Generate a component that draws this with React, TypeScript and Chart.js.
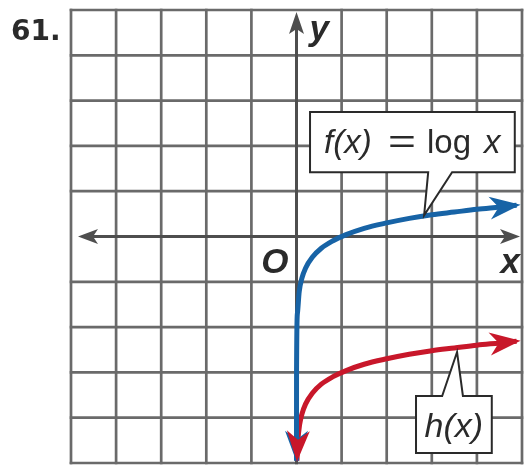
import { useEffect, useRef } from "react";
import { Chart, registerables } from "chart.js";

Chart.register(...registerables);

// Axis window
const xRange = [-5, 5];
const yRange = [-5, 5];

// f(x) = log x
const fXs = [0.00001, 0.001, 0.02, 0.06, 0.12, 0.2, 0.35, 0.55, 0.8, 1.1, 1.5, 2, 2.5, 3, 3.5, 4, 4.5, 4.88];
const fYs = [-4.95, -3, -1.7, -1.22, -0.92, -0.7, -0.46, -0.26, -0.1, 0.04, 0.18, 0.3, 0.4, 0.48, 0.54, 0.6, 0.65, 0.69];

// h(x)
const hXs = [0.011, 0.03, 0.07, 0.12, 0.2, 0.35, 0.55, 0.8, 1.1, 1.5, 2, 2.5, 3, 3.5, 4, 4.5, 4.88];
const hYs = [-4.95, -4.52, -4.15, -3.92, -3.7, -3.46, -3.26, -3.1, -2.96, -2.82, -2.7, -2.6, -2.52, -2.46, -2.4, -2.35, -2.31];

const problemLabel = "61.";
const xAxisLabel = "x";
const yAxisLabel = "y";
const originLabel = "O";
const fName = "f(x)";
const fRule = "log";
const hName = "h(x)";

const BLUE = "#1763a6";
const RED = "#c8172a";
const GRID = "#6a6a6a";
const AXIS = "#4e4e4e";
const INK = "#2a2a2a";

const toPoints = (xs: number[], ys: number[]) => xs.map((x, i) => ({ x, y: ys[i] }));

function arrowHead(ctx: CanvasRenderingContext2D, tx: number, ty: number, ang: number, len: number, half: number, notch: number, color: string) {
  const c = Math.cos(ang), s = Math.sin(ang);
  const bx = tx - c * len, by = ty - s * len;
  const nx = tx - c * (len - notch), ny = ty - s * (len - notch);
  ctx.save();
  ctx.fillStyle = color;
  ctx.beginPath();
  ctx.moveTo(tx, ty);
  ctx.lineTo(bx - s * half, by + c * half);
  ctx.lineTo(nx, ny);
  ctx.lineTo(bx + s * half, by - c * half);
  ctx.closePath();
  ctx.fill();
  ctx.restore();
}

const graphPaper = {
  id: "graphPaper",
  beforeDatasetsDraw(chart: any) {
    const { ctx, chartArea } = chart;
    const xs = chart.scales.x, ys = chart.scales.y;
    const { left, right, top, bottom } = chartArea;
    ctx.save();
    ctx.strokeStyle = GRID;
    ctx.lineWidth = 2.7;
    for (let v = xRange[0]; v <= xRange[1]; v++) {
      if (v === 0) continue;
      const px = xs.getPixelForValue(v);
      ctx.beginPath();
      ctx.moveTo(px, top - 1.3);
      ctx.lineTo(px, bottom + 1.3);
      ctx.stroke();
    }
    for (let v = yRange[0]; v <= yRange[1]; v++) {
      if (v === 0) continue;
      const py = ys.getPixelForValue(v);
      ctx.beginPath();
      ctx.moveTo(left - 1.3, py);
      ctx.lineTo(right + 1.3, py);
      ctx.stroke();
    }
    // axes
    const x0 = xs.getPixelForValue(0);
    const y0 = ys.getPixelForValue(0);
    ctx.strokeStyle = AXIS;
    ctx.lineWidth = 3;
    ctx.beginPath();
    ctx.moveTo(left + 14, y0);
    ctx.lineTo(right - 8, y0);
    ctx.stroke();
    ctx.beginPath();
    ctx.moveTo(x0, top + 14);
    ctx.lineTo(x0, bottom + 1.3);
    ctx.stroke();
    arrowHead(ctx, left + 7, y0, Math.PI, 20, 7.5, 5, AXIS);
    arrowHead(ctx, right - 2, y0, 0, 20, 7.5, 5, AXIS);
    arrowHead(ctx, x0, top + 2, -Math.PI / 2, 22, 7.5, 5, AXIS);

    // labels
    ctx.fillStyle = INK;
    ctx.textBaseline = "alphabetic";
    ctx.font = "bold 28px 'DejaVu Sans'";
    ctx.textAlign = "left";
    ctx.fillText(problemLabel, 11, 40);
    ctx.font = "italic bold 35px 'Liberation Sans'";
    ctx.fillText(yAxisLabel, x0 + 13, top + 30);
    ctx.textAlign = "right";
    ctx.fillText(originLabel, x0 - 8, y0 + 36);
    ctx.fillText(xAxisLabel, right - 2, y0 + 36);
    ctx.restore();
  },
  afterDatasetsDraw(chart: any) {
    const { ctx } = chart;
    const xs = chart.scales.x, ys = chart.scales.y;
    const colors = [BLUE, RED];
    chart.data.datasets.forEach((_d: any, i: number) => {
      const pts = chart.getDatasetMeta(i).data;
      const n = pts.length;
      const a = Math.atan2(pts[n - 1].y - pts[n - 2].y, pts[n - 1].x - pts[n - 2].x);
      arrowHead(ctx, pts[n - 1].x + Math.cos(a) * 4, pts[n - 1].y + Math.sin(a) * 4, a, 31, 11.5, 9, colors[i]);
      const b = Math.atan2(pts[0].y - pts[1].y, pts[0].x - pts[1].x);
      arrowHead(ctx, pts[0].x + Math.cos(b) * 1, pts[0].y + Math.sin(b) * 1, b, 31, 11.5, 9, colors[i]);
    });

    const P = (x: number, y: number) => [xs.getPixelForValue(x), ys.getPixelForValue(y)];

    // callout for f
    ctx.save();
    ctx.lineWidth = 2;
    ctx.strokeStyle = INK;
    ctx.fillStyle = "#ffffff";
    ctx.lineJoin = "miter";
    const [fl, ft] = P(0.3, 2.75);
    const [fr, fb] = P(4.84, 1.42);
    const [fa1] = P(2.92, 0);
    const [fa2] = P(3.45, 0);
    const [fax, fay] = P(2.83, 0.47);
    ctx.beginPath();
    ctx.moveTo(fl, ft);
    ctx.lineTo(fr, ft);
    ctx.lineTo(fr, fb);
    ctx.lineTo(fa2, fb);
    ctx.lineTo(fax, fay);
    ctx.lineTo(fa1, fb);
    ctx.lineTo(fl, fb);
    ctx.closePath();
    ctx.fill();
    ctx.stroke();
    ctx.fillStyle = INK;
    ctx.textAlign = "left";
    const base = ft + 0.69 * (fb - ft);
    ctx.font = "italic 33px 'Liberation Sans'";
    ctx.fillText(fName, fl + 14, base);
    ctx.save();
    ctx.translate(fl + 78, base);
    ctx.scale(1.45, 1);
    ctx.font = "33px 'Liberation Sans'";
    ctx.fillText("=", 0, 0);
    ctx.restore();
    ctx.font = "33px 'Liberation Sans'";
    ctx.fillText(fRule, fl + 117, base);
    ctx.font = "italic 33px 'Liberation Sans'";
    ctx.fillText("x", fl + 174, base);

    // callout for h
    ctx.fillStyle = "#ffffff";
    const [hl, ht] = P(2.65, -3.52);
    const [hr, hb] = P(4.33, -4.78);
    const [ha1] = P(3.23, 0);
    const [ha2] = P(3.69, 0);
    const [hax, hay] = P(3.56, -2.55);
    ctx.beginPath();
    ctx.moveTo(hl, ht);
    ctx.lineTo(ha1, ht);
    ctx.lineTo(hax, hay);
    ctx.lineTo(ha2, ht);
    ctx.lineTo(hr, ht);
    ctx.lineTo(hr, hb);
    ctx.lineTo(hl, hb);
    ctx.closePath();
    ctx.fill();
    ctx.stroke();
    ctx.fillStyle = INK;
    ctx.textAlign = "center";
    ctx.font = "italic 34px 'Liberation Sans'";
    ctx.fillText(hName, (hl + hr) / 2, ht + 0.72 * (hb - ht));
    ctx.restore();
  },
};

export default function App() {
  const ref = useRef<HTMLCanvasElement | null>(null);
  useEffect(() => {
    if (!ref.current) return;
    const chart = new Chart(ref.current, {
      type: "line",
      data: {
        datasets: [
          {
            data: toPoints(fXs, fYs),
            borderColor: BLUE,
            borderWidth: 5,
            pointRadius: 0,
            fill: false,
            cubicInterpolationMode: "monotone",
          },
          {
            data: toPoints(hXs, hYs),
            borderColor: RED,
            borderWidth: 5,
            pointRadius: 0,
            fill: false,
            cubicInterpolationMode: "monotone",
          },
        ],
      },
      options: {
        animation: false,
        responsive: false,
        events: [],
        layout: { padding: { left: 71, right: 7, top: 10, bottom: 6 } },
        scales: {
          x: { type: "linear", min: xRange[0], max: xRange[1], display: false },
          y: { type: "linear", min: yRange[0], max: yRange[1], display: false },
        },
        plugins: { legend: { display: false }, tooltip: { enabled: false } },
      },
      plugins: [graphPaper],
    } as any);
    return () => chart.destroy();
  }, []);
  return (
    <div style={{ position: "absolute", left: 0, top: 0, width: 529, height: 469, background: "#fff" }}>
      <canvas ref={ref} width={529} height={469} style={{ display: "block" }} />
    </div>
  );
}
